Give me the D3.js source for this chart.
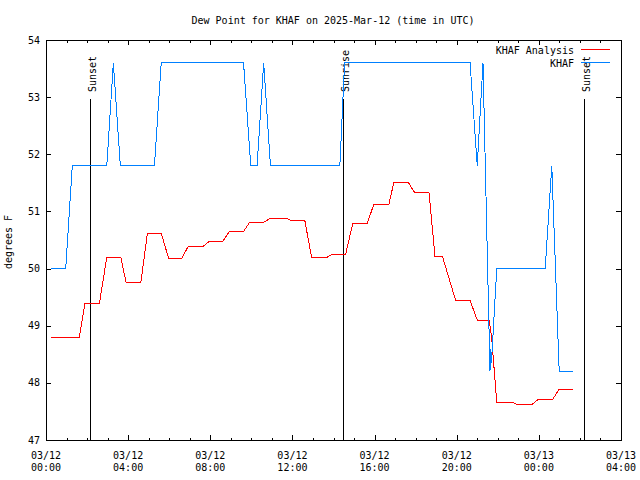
<!DOCTYPE html>
<html><head><meta charset="utf-8">
<script src="https://cdn.jsdelivr.net/npm/d3@7"></script>
<style>
body{margin:0;background:#fff;}
text{font-family:"DejaVu Sans Mono",monospace;font-size:10px;fill:#000;}
</style></head>
<body><svg id="c" width="640" height="480"></svg>
<script>
// Time in hours since 03/12 00:00 UTC
const titleText = "Dew Point for KHAF on 2025-Mar-12 (time in UTC)";
const yLabel = "degrees F";
const seriesNames = ["KHAF Analysis", "KHAF"];
const xTickHours = [0, 4, 8, 12, 16, 20, 24, 28];
const xTickDates = ["03/12","03/12","03/12","03/12","03/12","03/12","03/13","03/13"];
const xTickTimes = ["00:00","04:00","08:00","12:00","16:00","20:00","00:00","04:00"];
const yTicks = [47, 48, 49, 50, 51, 52, 53, 54];
const sunEvents = [{label:"Sunset", h:2.15}, {label:"Sunrise", h:14.48}, {label:"Sunset", h:26.22}];

const analysisHours = [0.24,1.62,1.90,2.60,2.96,3.64,3.90,4.62,4.94,5.61,5.97,6.62,6.91,7.62,7.97,8.62,8.93,9.62,9.92,10.60,10.93,11.69,11.90,12.60,12.93,13.69,13.94,14.59,14.94,15.64,15.97,16.70,16.94,17.64,17.95,18.65,18.94,19.30,19.95,20.65,21.00,21.58,21.70,21.95,22.72,22.93,23.66,23.97,24.67,24.99,25.64];
const analysisValues = [48.8,48.8,49.39,49.39,50.2,50.2,49.76,49.76,50.62,50.62,50.18,50.18,50.38,50.38,50.48,50.48,50.65,50.65,50.81,50.81,50.88,50.88,50.85,50.85,50.2,50.2,50.25,50.25,50.79,50.79,51.13,51.13,51.51,51.51,51.33,51.33,50.22,50.22,49.44,49.44,49.1,49.1,48.8,47.66,47.66,47.62,47.62,47.71,47.71,47.89,47.89];

const stationHours = [0.24,0.96,1.28,2.96,3.28,3.62,5.28,5.61,9.62,9.97,10.28,10.60,10.93,14.31,14.54,20.65,21.00,21.28,21.62,21.66,21.69,21.95,24.31,24.63,24.99,25.64];
const stationValues = [50.0,50.0,51.8,51.8,53.6,51.8,51.8,53.6,53.6,51.8,51.8,53.6,51.8,51.8,53.6,53.6,51.8,53.6,48.2,48.6,48.35,50.0,50.0,51.8,48.2,48.2];

const colors = ["#ff0000", "#0080ff"];

const svg = d3.select("#c");
const L=46, R=621, T=40, B=440;
const x = d3.scaleLinear().domain([0,28]).range([L,R]);
const y = d3.scaleLinear().domain([47,54]).range([B,T]);

// title
svg.append("text").attr("x",333).attr("y",24).attr("text-anchor","middle").text(titleText);
// y label
svg.append("text").attr("transform","translate(12,242) rotate(-90)").attr("text-anchor","middle").text(yLabel);

// frame
svg.append("rect").attr("x",L).attr("y",T).attr("width",R-L).attr("height",B-T)
  .attr("fill","none").attr("stroke","#000").attr("shape-rendering","crispEdges");

// x ticks (major every 4h, minor every 1h)
const minor = d3.range(0,29);
const tg = svg.append("g").attr("stroke","#000").attr("shape-rendering","crispEdges");
minor.forEach(h=>{
  const len = (h%4===0)?5:2.5;
  const xx = Math.round(x(h))+0.5;
  tg.append("line").attr("x1",xx).attr("x2",xx).attr("y1",B).attr("y2",B-len);
  tg.append("line").attr("x1",xx).attr("x2",xx).attr("y1",T).attr("y2",T+len);
});
yTicks.forEach(v=>{
  const yy = Math.round(y(v))+0.5;
  tg.append("line").attr("x1",L).attr("x2",L+5).attr("y1",yy).attr("y2",yy);
  tg.append("line").attr("x1",R).attr("x2",R-5).attr("y1",yy).attr("y2",yy);
});
// x tick labels
xTickHours.forEach((h,i)=>{
  svg.append("text").attr("x",x(h)).attr("y",459).attr("text-anchor","middle").text(xTickDates[i]);
  svg.append("text").attr("x",x(h)).attr("y",471).attr("text-anchor","middle").text(xTickTimes[i]);
});
// y tick labels
yTicks.forEach(v=>{
  svg.append("text").attr("x",40).attr("y",y(v)+3.5).attr("text-anchor","end").text(v);
});

// sun event lines
sunEvents.forEach(e=>{
  const xx = Math.round(x(e.h))+0.5;
  svg.append("line").attr("x1",xx).attr("x2",xx).attr("y1",99).attr("y2",B)
    .attr("stroke","#000").attr("shape-rendering","crispEdges");
  svg.append("text").attr("transform",`translate(${xx+5},92) rotate(-90)`).attr("text-anchor","start").text(e.label);
});

// data lines
const line = d3.line().x(d=>x(d[0])).y(d=>y(d[1]));
const series = [
  analysisHours.map((h,i)=>[h,analysisValues[i]]),
  stationHours.map((h,i)=>[h,stationValues[i]])
];
series.forEach((s,i)=>{
  svg.append("path").datum(s).attr("d",line).attr("fill","none")
    .attr("stroke",colors[i]).attr("stroke-width",1).attr("shape-rendering","crispEdges");
});

// legend
seriesNames.forEach((n,i)=>{
  const ly = 50 + i*13;
  svg.append("text").attr("x",574).attr("y",ly+3.5).attr("text-anchor","end").text(n);
  svg.append("line").attr("x1",581).attr("x2",610).attr("y1",ly-0.5).attr("y2",ly-0.5)
    .attr("stroke",colors[i]).attr("shape-rendering","crispEdges");
});
</script></body></html>
